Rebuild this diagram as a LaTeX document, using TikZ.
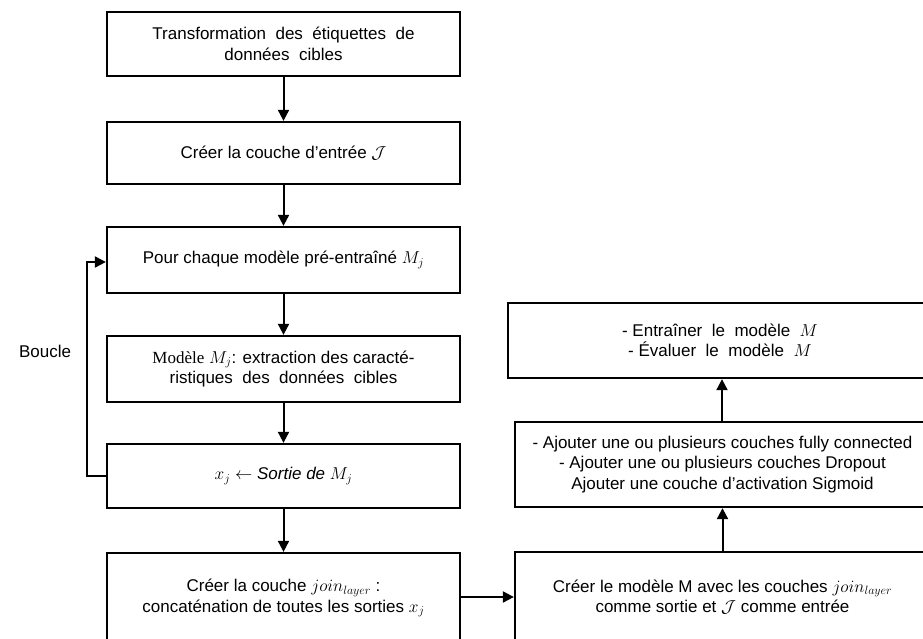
\documentclass[tikz,border=0pt]{standalone}
\usepackage{fontspec}
\setmainfont{Liberation Sans}
\newfontfamily\serifm{Liberation Serif}
\usetikzlibrary{arrows.meta}
\begin{document}
\begin{tikzpicture}[x=1pt,y=-1pt,
  box/.style={draw, line width=2.3pt, rectangle, align=center, inner sep=0pt,
    font=\fontsize{17}{20.5}\selectfont},
  arr/.style={line width=2pt, -{Triangle[length=11pt,width=11pt]}}]
\clip (0,0) rectangle (923,638);
\useasboundingbox (0,0) rectangle (923,638);
% left column
\node[box, minimum width=353pt, minimum height=64pt] (b1) at (283.5,44) {Transformation\ \ des\ \ étiquettes\ \ de\\données\ \ cibles};
\node[box, minimum width=353pt, minimum height=62pt] (b2) at (283.5,153) {Créer la couche d’entrée $\mathcal{J}$};
\node[box, minimum width=353pt, minimum height=66pt] (b3) at (283.5,260) {Pour chaque modèle pré-entraîné $M_j$};
\node[box, minimum width=353pt, minimum height=66pt] (b4) at (283.5,369) {{\serifm Modèle} $M_j$: extraction des caracté-\\ristiques\ \ des\ \ données\ \ cibles};
\node[box, minimum width=353pt, minimum height=64pt] (b5) at (283.5,476) {$x_j \leftarrow$ \textit{Sortie de $M_j$}};
\node[box, minimum width=353pt, minimum height=90pt] (b6) at (283.5,598) {Créer la couche $join_{layer}$ :\\concaténation de toutes les sorties $x_j$};
% right column
\node[box, minimum width=424pt, minimum height=75pt] (r1) at (720,340.5) {- Entraîner\ \ le\ \ modèle\ \ $M$\\- Évaluer\ \ le\ \ modèle\ \ $M$};
\node[box, minimum width=415pt, minimum height=85pt] (r2) at (722.5,464.5) {- Ajouter une ou plusieurs couches fully connected\\- Ajouter une ou plusieurs couches Dropout\\Ajouter une couche d’activation Sigmoid};
\node[box, minimum width=415pt, minimum height=90pt] (r3) at (722.5,597) {Créer le modèle M avec les couches $join_{layer}$\\comme sortie et $\mathcal{J}$ comme entrée};
\node[font=\fontsize{17}{20.5}\selectfont] (loop) at (45,351) {Boucle};
% connectors
\draw[arr] (b1.south) -- (b2.north);
\draw[arr] (b2.south) -- (b3.north);
\draw[arr] (b3.south) -- (b4.north);
\draw[arr] (b4.south) -- (b5.north);
\draw[arr] (b5.south) -- (b6.north);
\coordinate (lb) at (87,476);
\coordinate (lt) at (87,262);
\draw[arr] (b5.west) -- (lb) -- (lt) -- (b3.west |- lt);
\draw[arr] (b6.east |- 0,597) -- (r3.west |- 0,597);
\draw[arr] (r3.north -| 722.5,0) -- (r2.south -| 722.5,0);
\draw[arr] (r2.north -| 722,0) -- (r1.south -| 722,0);
\end{tikzpicture}
\end{document}
